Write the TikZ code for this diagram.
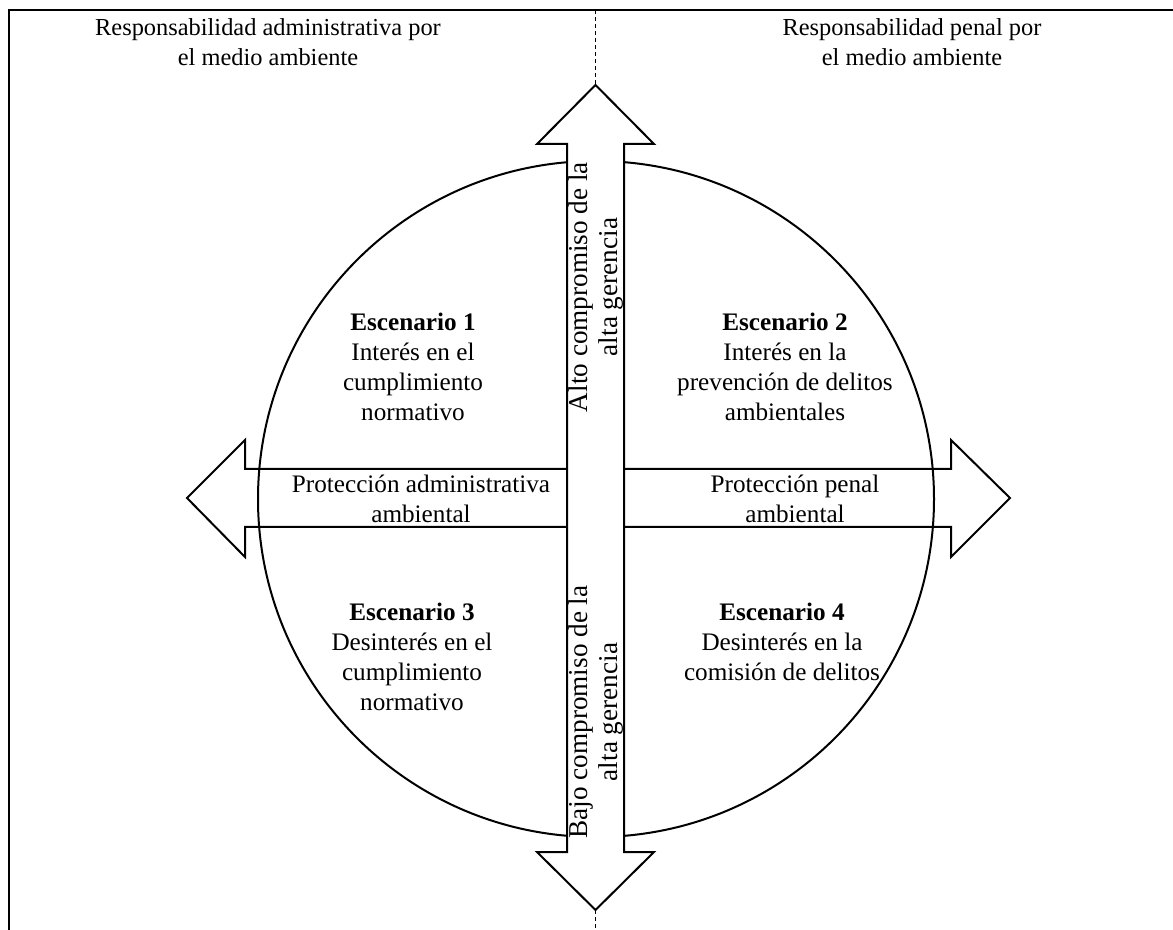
\documentclass[tikz,border=0pt]{standalone}
\usepackage{fontspec}
\setmainfont{Liberation Serif}
\usetikzlibrary{positioning}
\definecolor{linea}{RGB}{0,0,0}
\tikzset{
    txt/.style={align=center, inner sep=0pt, font=\fontsize{12.2}{15}\selectfont},
    txtin/.style={txt, font=\fontsize{12.6}{15}\selectfont},
    txtrot/.style={txt, rotate=90, font=\fontsize{13.6}{15}\selectfont},
    blockarrow/.style={draw=linea, line width=1pt, fill=white, line join=miter},
    eje/.style={draw=linea, line width=0.5pt, dash pattern=on 2pt off 1.5pt}
}

\begin{document}
\begin{tikzpicture}[x=0.5pt, y=-0.5pt]
    \useasboundingbox (0,0) rectangle (1173,930);
    % marco
    \draw[line width=1pt, color=linea] (9,930) -- (9,10) -- (1173,10);
    \coordinate (marcoTop) at (595.5,10);
    \coordinate (marcoBottom) at (595.5,930);
    % flecha horizontal
    \draw[blockarrow] (187,498) -- (245,440) -- (245,469) -- (951,469)
        -- (951,440) -- (1010,498) -- (951,557) -- (951,527) -- (245,527)
        -- (245,557) -- cycle;
    \draw[line width=1pt, color=linea] (596,499) circle (338);
    % flecha vertical
    \draw[blockarrow] (595.5,85) -- (654,144) -- (624,144) -- (624,852)
        -- (654,852) -- (595.5,910) -- (537,852) -- (567,852) -- (567,144)
        -- (537,144) -- cycle;
    \coordinate (tipTop) at (595.5,85);
    \coordinate (tipBottom) at (595.5,910);
    \draw[eje] (marcoTop) -- (tipTop);
    \draw[eje] (tipBottom) -- (marcoBottom);
    %
    \node[txt] (admin) at (268,42) {Responsabilidad administrativa por\\el medio ambiente};
    \node[txt] (penal) at (912,42) {Responsabilidad penal por\\el medio ambiente};
    \node[txtin] (esc1) at (413,367) {\textbf{Escenario 1}\\Interés en el\\cumplimiento\\normativo};
    \node[txtin] (esc2) at (785,367) {\textbf{Escenario 2}\\Interés en la\\prevención de delitos\\ambientales};
    \node[txtin] (protA) at (421,499) {Protección administrativa\\ambiental};
    \node[txtin] (protP) at (795,499) {Protección penal\\ambiental};
    \node[txtin] (esc3) at (412,657) {\textbf{Escenario 3}\\Desinterés en el\\cumplimiento\\normativo};
    \node[txtin] (esc4) at (782,642) {\textbf{Escenario 4}\\Desinterés en la\\comisión de delitos};
    \node[txtrot] (alto) at (595.5,287) {Alto compromiso de la\\alta gerencia};
    \node[txtrot] (bajo) at (595.5,712) {Bajo compromiso de la\\alta gerencia};
\end{tikzpicture}
\end{document}
